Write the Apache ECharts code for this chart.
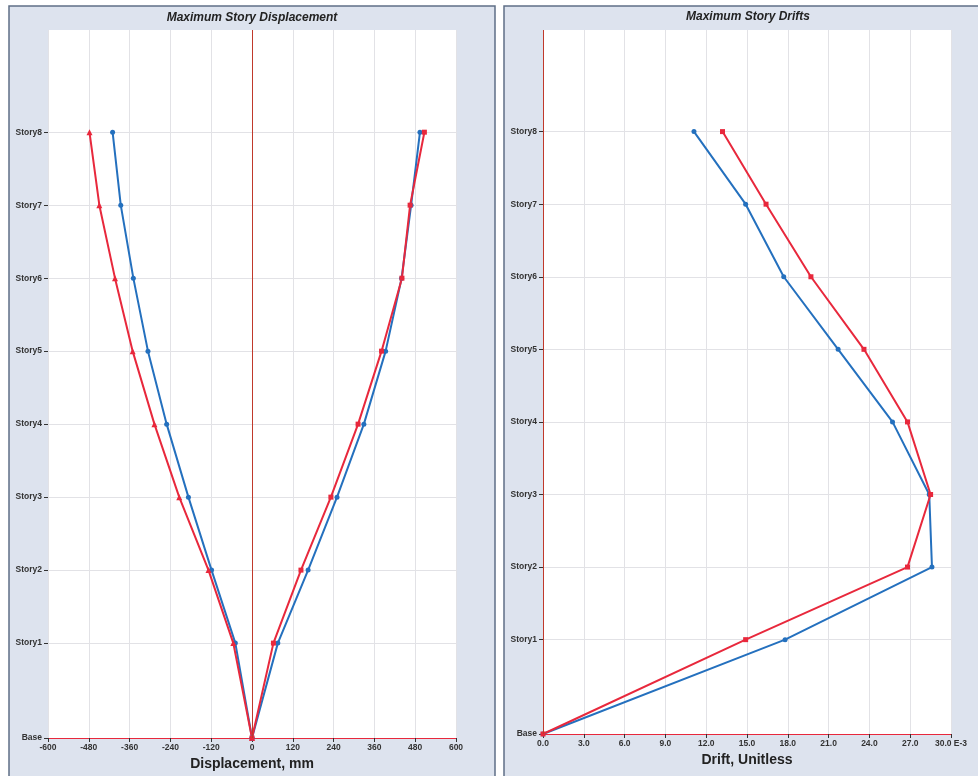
<!DOCTYPE html>
<html>
<head>
<meta charset="utf-8">
<script src="https://cdn.jsdelivr.net/npm/echarts@6/dist/echarts.min.js"></script>
<style>
html,body{margin:0;padding:0;background:#fff;}
#c{width:978px;height:776px;}
</style>
</head>
<body>
<div id="c"></div>
<script>
// ---- data ----
const stories = ['Base','Story1','Story2','Story3','Story4','Story5','Story6','Story7','Story8'];
const elevations = [0, 3.9, 6.9, 9.9, 12.9, 15.9, 18.9, 21.9, 24.9]; // m
const dispNegBlue = [0, -49, -119, -187, -251, -306, -349, -386, -410];
const dispNegRed  = [0, -55, -128, -214, -287, -351, -403, -449, -478];
const dispPosBlue = [0, 76, 165, 250, 329, 393, 440, 468, 494];
const dispPosRed  = [0, 63, 144, 232, 312, 381, 441, 465, 507];
const driftBlue = [0, 17.8, 28.6, 28.4, 25.7, 21.7, 17.7, 14.9, 11.1]; // E-3
const driftRed  = [0, 14.9, 26.8, 28.5, 26.8, 23.6, 19.7, 16.4, 13.2]; // E-3
const dispTicks = [-600,-480,-360,-240,-120,0,120,240,360,480,600];
const driftTicks = [0,3,6,9,12,15,18,21,24,27,30];

const BLUE = '#2470be', RED = '#e8283c';
const FONT = 'Liberation Sans, Arial, sans-serif';
const pairs = (xs) => xs.map((v,i)=>[v, elevations[i]]);
const storyLabel = (v) => { const i = elevations.findIndex(e=>Math.abs(e-v)<1e-6); return i>=0 ? stories[i] : ''; };

function yAx(gridIndex){
  return {
    type:'value', gridIndex, min:0, max:29.1,
    axisLine:{show:false, onZero:false},
    axisTick:{show:true, length:4, lineStyle:{color:'#333'}, customValues: elevations},
    axisLabel:{customValues: elevations, formatter: storyLabel, fontFamily:FONT, fontSize:8.5, fontWeight:'bold', color:'#333', margin:6},
    splitLine:{show:true, lineStyle:{color:'#e2e2e6', width:1}}
  };
}
function xAx(gridIndex, min, max, interval, name, fmt, ticks){
  return {
    type:'value', gridIndex, min, max, interval,
    name, nameLocation:'middle', nameGap:13,
    nameTextStyle:{fontFamily:FONT, fontSize:14, fontWeight:'bold', color:'#222'},
    axisLine:{show:true, onZero:false, lineStyle:{color:RED, width:1.2}},
    axisTick:{show:true, length:4, lineStyle:{color:'#333'}, customValues: ticks},
    axisLabel:{customValues: ticks, formatter: fmt, fontFamily:FONT, fontSize:8.5, fontWeight:'bold', color:'#333', margin:5},
    splitLine:{show:true, lineStyle:{color:'#e2e2e6', width:1}}
  };
}
function line(name, data, color, symbol, xi){
  return {
    type:'line', name, data, xAxisIndex:xi, yAxisIndex:xi,
    symbol, symbolSize: symbol==='triangle'?6:5,
    lineStyle:{color, width:2}, itemStyle:{color},
    animation:false, z:3
  };
}
const zeroLine = (xi) => ({
  type:'line', data:[], xAxisIndex:xi, yAxisIndex:xi, silent:true,
  markLine:{silent:true, symbol:'none', label:{show:false},
    lineStyle:{color:'#c0392b', width:1, type:'solid'},
    data:[[{coord:[0,0]},{coord:[0,29.1]}]]},
  animation:false, z:2
});

const chart = echarts.init(document.getElementById('c'), null, {renderer:'canvas'});
chart.setOption({
  animation:false,
  backgroundColor:'#ffffff',
  graphic:[
    {type:'rect', z:-10, shape:{x:9, y:6, width:486, height:780}, style:{fill:'#dde3ee', stroke:'#5f6f86', lineWidth:1.5}},
    {type:'rect', z:-10, shape:{x:504, y:6, width:490, height:780}, style:{fill:'#dde3ee', stroke:'#5f6f86', lineWidth:1.5}},
    {type:'text', z:10, x:252, y:18, style:{text:'Maximum Story Displacement', textAlign:'center', textVerticalAlign:'middle', font:'italic bold 12px '+FONT, fill:'#222'}},
    {type:'text', z:10, x:748, y:17, style:{text:'Maximum Story Drifts', textAlign:'center', textVerticalAlign:'middle', font:'italic bold 12px '+FONT, fill:'#222'}}
  ],
  grid:[
    {left:48, right:522, top:30, bottom:38, show:true, backgroundColor:'#ffffff', borderWidth:0},
    {left:543, right:27, top:30, bottom:42, show:true, backgroundColor:'#ffffff', borderWidth:0}
  ],
  xAxis:[
    xAx(0, -600, 600, 120, 'Displacement, mm', v=>String(v), dispTicks),
    xAx(1, 0, 30, 3, 'Drift, Unitless', v=> v===30 ? '30.0 E-3' : v.toFixed(1), driftTicks)
  ],
  yAxis:[yAx(0), yAx(1)],
  series:[
    zeroLine(0), zeroLine(1),
    line('Disp -X blue', pairs(dispNegBlue), BLUE, 'circle', 0),
    line('Disp -X red', pairs(dispNegRed), RED, 'triangle', 0),
    line('Disp +X blue', pairs(dispPosBlue), BLUE, 'circle', 0),
    line('Disp +X red', pairs(dispPosRed), RED, 'rect', 0),
    line('Drift blue', pairs(driftBlue), BLUE, 'circle', 1),
    line('Drift red', pairs(driftRed), RED, 'rect', 1)
  ]
});
</script>
</body>
</html>
